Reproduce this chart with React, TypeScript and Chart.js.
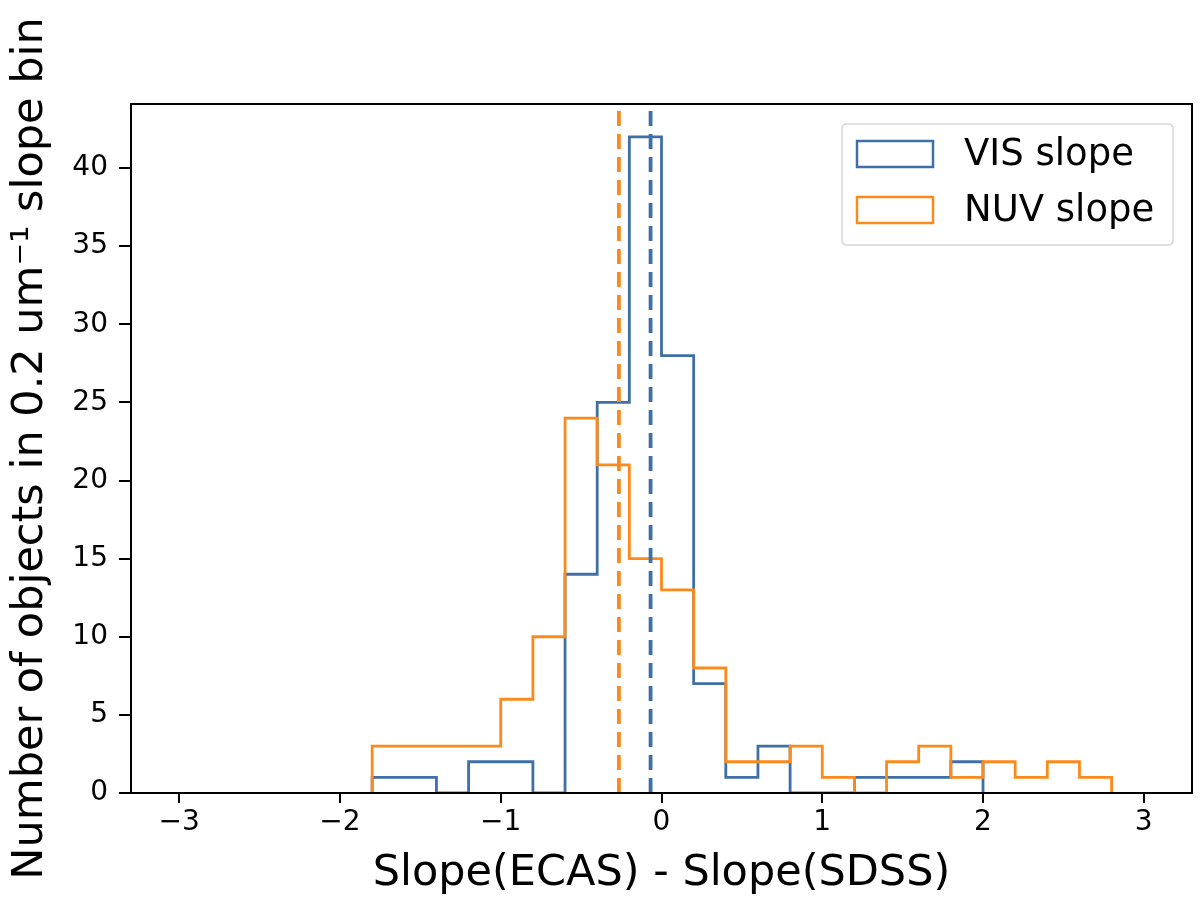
import React, { useEffect, useRef } from "react";
import { Chart, registerables } from "chart.js";

Chart.register(...registerables);

// ---- data ----
const visEdges = [-1.8, -1.6, -1.4, -1.2, -1.0, -0.8, -0.6, -0.4, -0.2, 0.0, 0.2, 0.4, 0.6, 0.8, 1.0, 1.2, 1.4, 1.6, 1.8, 2.0];
const visCounts = [1, 1, 0, 2, 2, 0, 14, 25, 42, 28, 7, 1, 3, 0, 0, 1, 1, 1, 2];

const nuvEdges = [-1.8, -1.6, -1.4, -1.2, -1.0, -0.8, -0.6, -0.4, -0.2, 0.0, 0.2, 0.4, 0.6, 0.8, 1.0, 1.2, 1.4, 1.6, 1.8, 2.0, 2.2, 2.4, 2.6, 2.8];
const nuvCounts = [3, 3, 3, 3, 6, 10, 24, 21, 15, 13, 8, 2, 2, 3, 1, 0, 2, 3, 1, 2, 1, 2, 1];

const visMean = -0.068;
const nuvMean = -0.265;

const xTickValues = [-3, -2, -1, 0, 1, 2, 3];
const yTickValues = [0, 5, 10, 15, 20, 25, 30, 35, 40];
const xRange = [-3.3, 3.3];
const yRange = [0, 44.1];

const seriesLabels = ["VIS slope", "NUV slope"];
const xTitle = "Slope(ECAS) - Slope(SDSS)";
const yTitle = "Number of objects in 0.2 um\u207B\u00B9 slope bin";

const BLUE = "#3f6fa6";
const ORANGE = "#fb8a1c";
const FONT = '"DejaVu Sans", sans-serif';

function stepPoints(edges: number[], counts: number[]) {
  const pts: { x: number; y: number }[] = [{ x: edges[0], y: 0 }];
  counts.forEach((c, i) => pts.push({ x: edges[i], y: c }));
  pts.push({ x: edges[edges.length - 1], y: 0 });
  return pts;
}

const fmt = (v: number) => (v < 0 ? "\u2212" + Math.abs(v) : String(v));

const framePlugin = {
  id: "frame",
  afterDraw(chart: any) {
    const { ctx, chartArea } = chart;
    ctx.save();
    ctx.strokeStyle = "#000";
    ctx.lineWidth = 2;
    ctx.strokeRect(chartArea.left, chartArea.top, chartArea.right - chartArea.left, chartArea.bottom - chartArea.top);

    // legend
    const lx = 842, ly = 124, lw = 331, lh = 121, r = 5;
    ctx.fillStyle = "rgba(255,255,255,0.85)";
    ctx.strokeStyle = "#d6d6d6";
    ctx.lineWidth = 1.5;
    ctx.beginPath();
    ctx.moveTo(lx + r, ly);
    ctx.lineTo(lx + lw - r, ly);
    ctx.quadraticCurveTo(lx + lw, ly, lx + lw, ly + r);
    ctx.lineTo(lx + lw, ly + lh - r);
    ctx.quadraticCurveTo(lx + lw, ly + lh, lx + lw - r, ly + lh);
    ctx.lineTo(lx + r, ly + lh);
    ctx.quadraticCurveTo(lx, ly + lh, lx, ly + lh - r);
    ctx.lineTo(lx, ly + r);
    ctx.quadraticCurveTo(lx, ly, lx + r, ly);
    ctx.closePath();
    ctx.fill();
    ctx.stroke();

    const colors = [BLUE, ORANGE];
    const rows = [154, 210];
    ctx.font = `37px ${FONT}`;
    ctx.textBaseline = "middle";
    ctx.textAlign = "left";
    seriesLabels.forEach((lab, i) => {
      ctx.strokeStyle = colors[i];
      ctx.lineWidth = 2.5;
      ctx.strokeRect(857, rows[i] - 13, 76, 26);
      ctx.fillStyle = "#000";
      ctx.fillText(lab, 964, rows[i] + 1);
    });
    ctx.restore();
  },
};

export default function App() {
  const ref = useRef<HTMLCanvasElement | null>(null);

  useEffect(() => {
    if (!ref.current) return;
    const chart = new Chart(ref.current, {
      type: "line",
      data: {
        datasets: [
          {
            label: "nuvMean",
            data: [{ x: nuvMean, y: yRange[0] }, { x: nuvMean, y: yRange[1] }],
            borderColor: ORANGE,
            borderWidth: 3.8,
            borderDash: [15, 8],
            pointRadius: 0,
            fill: false,
          },
          {
            label: "visMean",
            data: [{ x: visMean, y: yRange[0] }, { x: visMean, y: yRange[1] }],
            borderColor: BLUE,
            borderWidth: 3.8,
            borderDash: [15, 8],
            pointRadius: 0,
            fill: false,
          },
          {
            label: seriesLabels[1],
            data: stepPoints(nuvEdges, nuvCounts),
            borderColor: ORANGE,
            borderWidth: 2.8,
            stepped: "before",
            pointRadius: 0,
            fill: false,
          },
          {
            label: seriesLabels[0],
            data: stepPoints(visEdges, visCounts),
            borderColor: BLUE,
            borderWidth: 2.8,
            stepped: "before",
            pointRadius: 0,
            fill: false,
          },
        ],
      },
      options: {
        animation: false,
        responsive: true,
        maintainAspectRatio: false,
        devicePixelRatio: 1,
        layout: { padding: { top: 104, right: 8, left: 0, bottom: 0 } },
        plugins: {
          legend: { display: false },
          tooltip: { enabled: false },
        },
        scales: {
          x: {
            type: "linear",
            min: xRange[0],
            max: xRange[1],
            afterBuildTicks: (s: any) => {
              s.ticks = xTickValues.map((v) => ({ value: v }));
            },
            afterFit: (s: any) => {
              s.height = 114;
            },
            border: { display: false },
            grid: { drawOnChartArea: false, drawTicks: true, tickLength: 10, color: "#000", lineWidth: 2 },
            ticks: {
              color: "#000",
              font: { family: FONT, size: 28 },
              padding: 3,
              maxRotation: 0,
              callback: (v: any) => fmt(Number(v)),
            },
            title: {
              display: true,
              text: xTitle,
              color: "#000",
              font: { family: FONT, size: 43 },
              padding: { top: 0, bottom: 7 },
            },
          },
          y: {
            type: "linear",
            min: yRange[0],
            max: yRange[1],
            afterBuildTicks: (s: any) => {
              s.ticks = yTickValues.map((v) => ({ value: v }));
            },
            afterFit: (s: any) => {
              s.width = 131;
            },
            border: { display: false },
            grid: { drawOnChartArea: false, drawTicks: true, tickLength: 12, color: "#000", lineWidth: 2 },
            ticks: {
              color: "#000",
              font: { family: FONT, size: 28 },
              padding: 11,
              callback: (v: any) => fmt(Number(v)),
            },
            title: {
              display: true,
              text: yTitle,
              color: "#000",
              font: { family: FONT, size: 43 },
              padding: { top: 5, bottom: 0 },
            },
          },
        },
      },
      plugins: [framePlugin],
    } as any);
    return () => chart.destroy();
  }, []);

  return (
    <div style={{ position: "absolute", left: 0, top: 0, width: 1200, height: 907, background: "#fff" }}>
      <canvas ref={ref} />
    </div>
  );
}
